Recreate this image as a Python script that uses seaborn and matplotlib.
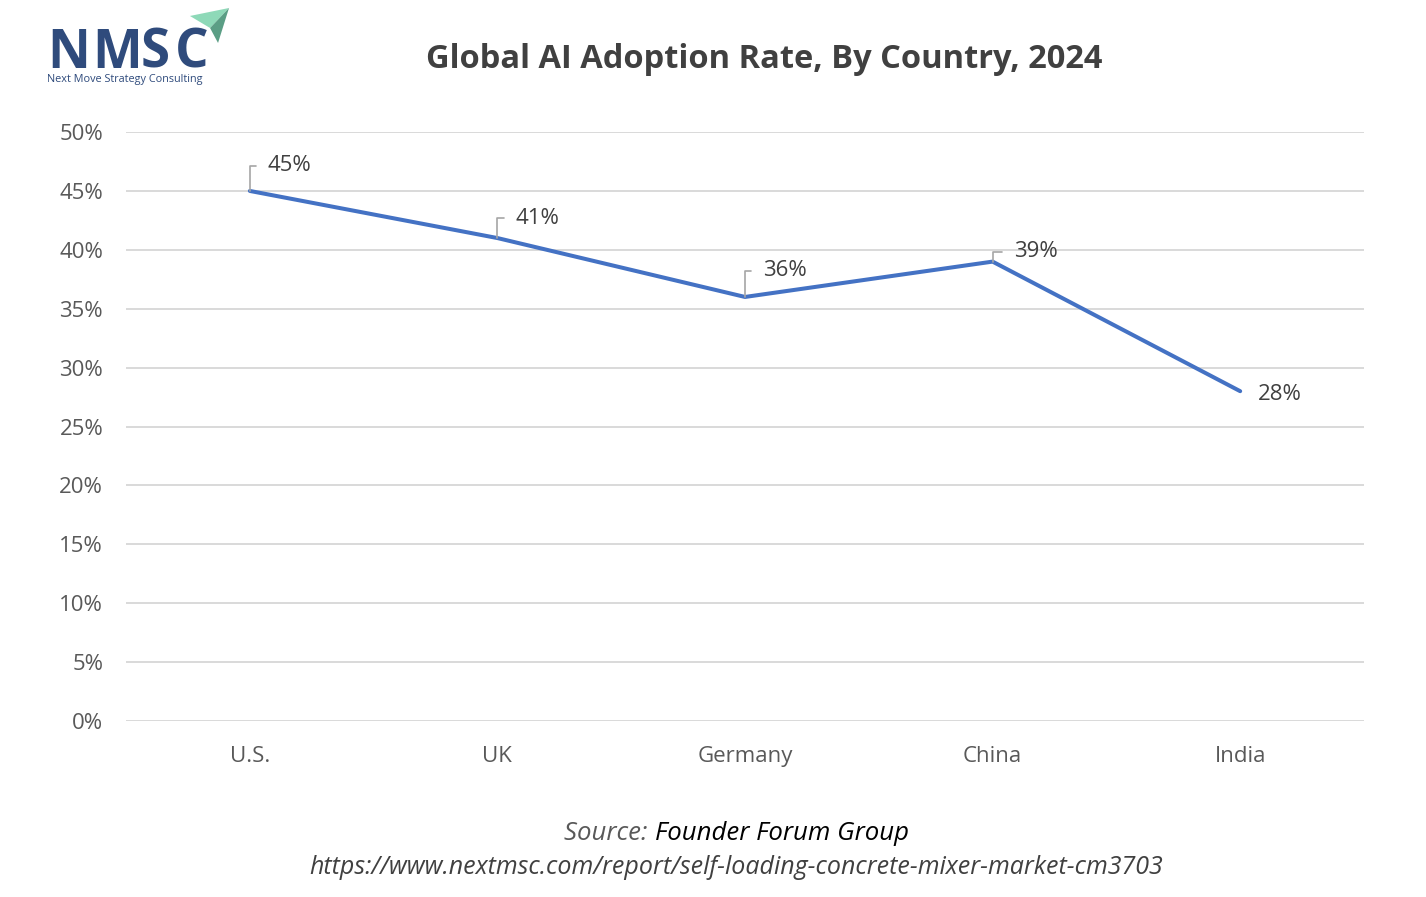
import matplotlib
matplotlib.use("Agg")
import matplotlib.pyplot as plt
import seaborn as sns
import pandas as pd
from matplotlib.patches import Polygon
from matplotlib.ticker import PercentFormatter

countries = ["U.S.", "UK", "Germany", "China", "India"]
adoption = [0.45, 0.41, 0.36, 0.39, 0.28]
y_ticks = [0.0, 0.05, 0.10, 0.15, 0.20, 0.25, 0.30, 0.35, 0.40, 0.45, 0.50]

title = "Global AI Adoption Rate, By Country, 2024"
source_label = "Source: "
source_name = "Founder Forum Group"
source_url = "https://www.nextmsc.com/report/self-loading-concrete-mixer-market-cm3703"

df = pd.DataFrame({"country": countries, "rate": adoption})

sns.set_theme(style="white")
plt.rcParams["font.family"] = ["Open Sans", "DejaVu Sans"]

fig = plt.figure(figsize=(14.26, 8.97), dpi=100)
ax = fig.add_axes([0.0884, 0.1962, 0.8681, 0.6566])

sns.lineplot(data=df, x="country", y="rate", ax=ax, color="#4472C4",
             linewidth=2.9, sort=False)

ax.set_xlim(-0.5, len(countries) - 0.5)
ax.set_ylim(0, 0.5)
ax.set_yticks(y_ticks)
ax.yaxis.set_major_formatter(PercentFormatter(1.0, decimals=0))
ax.grid(axis="y", color="#D9D9D9", linewidth=1.4)
ax.set_axisbelow(True)
for s in ax.spines.values():
    s.set_visible(False)
ax.tick_params(axis="both", length=0, labelsize=16, colors="#595959")
ax.tick_params(axis="y", pad=16.5)
ax.tick_params(axis="x", pad=18)
ax.set_xlabel("")
ax.set_ylabel("")

# data labels with leader lines (offsets in pixels; last one has no leader)
label_offsets = [(18, 25), (18, 20), (18, 26), (21, 10), (18, -3)]
for i, (v, off) in enumerate(zip(adoption, label_offsets)):
    label = f"{v * 100:.0f}%"
    if i == len(countries) - 1:
        ax.annotate(label, (i, v), xytext=off, textcoords="offset pixels",
                    ha="left", va="center", fontsize=16, color="#404040")
    else:
        ax.annotate(label, (i, v), xytext=off, textcoords="offset pixels",
                    ha="left", va="center", fontsize=16, color="#404040",
                    arrowprops=dict(arrowstyle="-", color="#A6A6A6", lw=1.2,
                                    shrinkA=6, shrinkB=0,
                                    connectionstyle="angle,angleA=0,angleB=90,rad=0"))

fig.text(0.5358, 0.934, title, ha="center", va="center", fontsize=23.5,
         fontweight="bold", color="#404040")

# logo
logo_letters = ["N", "M", "S", "C"]
logo_x = [0.033, 0.065, 0.0985, 0.1225]
for letter, lx in zip(logo_letters, logo_x):
    fig.text(lx, 0.9242, letter, ha="left", va="baseline", fontsize=38,
             fontweight="bold", color="#2F4B7C")
fig.text(0.033, 0.909, "Next Move Strategy Consulting", ha="left", va="baseline",
         fontsize=7.8, color="#2F4B7C")
fig.patches.append(Polygon([[0.1332, 0.9822], [0.1606, 0.9911], [0.1473, 0.9688]],
                           closed=True, transform=fig.transFigure,
                           facecolor="#8ED9B8", edgecolor="none"))
fig.patches.append(Polygon([[0.1473, 0.9688], [0.1606, 0.9911], [0.1529, 0.9521]],
                           closed=True, transform=fig.transFigure,
                           facecolor="#5B9E85", edgecolor="none"))

# source lines
fs = 18.5
t1 = fig.text(0.5165, 0.071, source_label + source_name, ha="center", va="center",
              fontsize=fs, style="italic", color="white")
fig.canvas.draw()
x0 = t1.get_window_extent().x0 / fig.bbox.width
t1.set_visible(False)
ta = fig.text(x0, 0.071, source_label, ha="left", va="center", fontsize=fs,
              style="italic", color="#595959")
fig.canvas.draw()
xa = ta.get_window_extent().x1 / fig.bbox.width
fig.text(xa, 0.071, source_name, ha="left", va="center", fontsize=fs,
         style="italic", color="#000000")
fig.text(0.5165, 0.0325, source_url, ha="center", va="center", fontsize=18,
         style="italic", color="#404040")

fig.savefig("out.png", dpi=100, facecolor="white")
